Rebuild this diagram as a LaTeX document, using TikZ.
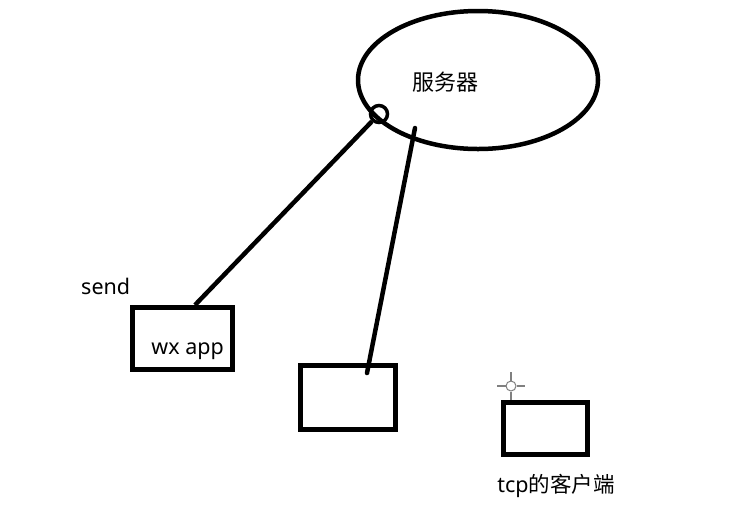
\documentclass[tikz,border=0pt]{standalone}
\usepackage{fontspec}
\setmainfont{Noto Sans}
\newfontfamily\cjk{Noto Sans CJK SC}
\usetikzlibrary{shapes.geometric}
\begin{document}
\begin{tikzpicture}[x=1pt,y=-1pt,
  ink/.style={line width=4.5pt,black},
  boxen/.style={draw,line width=5pt,inner sep=0pt,anchor=north west},
  lbl/.style={font=\fontsize{21.5}{25}\selectfont,inner sep=0pt}]
\useasboundingbox (0,0) rectangle (751,512);
\fill[white] (0,0) rectangle (751,512);
\node[ellipse,draw,line width=4.5pt,minimum width=240pt,minimum height=138pt,inner sep=0pt] (srv) at (478,80) {};
\node[lbl,font=\fontsize{22}{26}\selectfont\cjk] (srvt) at (445,82) {服务器};
\node[draw,circle,line width=3.5pt,minimum size=17pt,inner sep=0pt] (port) at (379,114) {};
\node[boxen,minimum width=100pt,minimum height=62pt] (b1) at (130,305) {};
\node[boxen,minimum width=95pt,minimum height=64pt] (b2) at (298,363) {};
\node[boxen,minimum width=84pt,minimum height=52pt] (b3) at (501,400) {};
\coordinate (b1in) at (195,305);
\coordinate (b2in) at (367,373);
\coordinate (srvpt) at (415,128);
\draw[ink] (port) -- (b1in);
\draw[ink,line cap=round] (srvpt) -- (b2in);
\node[lbl,anchor=west] (send) at (81,286) {send};
\node[lbl,anchor=east] (wx) at (224,351) {wx app};
\node[lbl,font=\fontsize{21.5}{25}\selectfont] (tcp) at (556,486) {tcp{\cjk 的客户端}};
% cursor crosshair
\node[draw=gray,circle,line width=1pt,minimum size=10pt,inner sep=0pt] (cur) at (511,386) {};
\coordinate (cl) at (497,386);
\coordinate (cr) at (525,386);
\coordinate (ct) at (511,372);
\coordinate (cb) at (511,400);
\draw[gray,line width=1.2pt] (cur.west) -- (cl) (cur.east) -- (cr) (cur.north) -- (ct) (cur.south) -- (cb);
\end{tikzpicture}
\end{document}
